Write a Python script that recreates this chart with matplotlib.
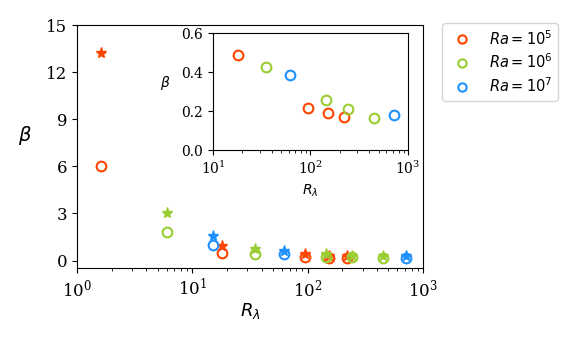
import numpy as np
import matplotlib.pyplot as plt

plt.rcParams['font.family'] = 'DejaVu Serif'
plt.rcParams['mathtext.fontset'] = 'dejavusans'

# Taylor-Reynolds numbers and beta per Rayleigh number
labels = [r'$Ra = 10^5$', r'$Ra = 10^6$', r'$Ra = 10^7$']
colors = ['orangered', 'yellowgreen', 'dodgerblue']

R_lambda = [
    [1.6, 18.0, 95.0, 152.0, 219.0],
    [6.0, 34.7, 143.0, 244.0, 452.0],
    [15.0, 62.0, 713.0],
]
beta_circ = [
    [6.05, 0.49, 0.215, 0.19, 0.17],
    [1.8, 0.425, 0.255, 0.21, 0.165],
    [1.0, 0.385, 0.18],
]
beta_star = [
    [13.2, 0.94, 0.41, 0.3, 0.3],
    [3.04, 0.73, 0.43, 0.3, 0.27],
    [1.54, 0.58, 0.3],
]

fig = plt.figure(figsize=(5.81, 3.49), dpi=100)
ax = fig.add_axes([0.1325, 0.231, 0.5955, 0.697])

for x, yc, ys, c, lab in zip(R_lambda, beta_circ, beta_star, colors, labels):
    ax.plot(x, ys, '*', color=c, ms=8, ls='none')
    ax.plot(x, yc, 'o', mfc='none', mec=c, mew=1.5, ms=7, ls='none', label=lab)

ax.set_xscale('log')
ax.set_xlim(1, 1000)
ax.set_ylim(-0.5, 15)
ax.set_yticks([0, 3, 6, 9, 12, 15])
ax.tick_params(labelsize=12)
ax.set_xlabel(r'$R_\lambda$', fontsize=13, labelpad=1)
ax.set_ylabel(r'$\beta$', fontsize=14, rotation=0, labelpad=15)

# inset with circles only, R_lambda >= 10
axin = fig.add_axes([0.3666, 0.570, 0.3356, 0.335])
for x, yc, c in zip(R_lambda, beta_circ, colors):
    x = np.array(x)
    yc = np.array(yc)
    m = x >= 10
    axin.plot(x[m], yc[m], 'o', mfc='none', mec=c, mew=1.5, ms=7, ls='none')
axin.set_xscale('log')
axin.set_xlim(10, 1000)
axin.set_ylim(0, 0.6)
axin.set_yticks([0, 0.2, 0.4, 0.6])
axin.tick_params(labelsize=10)
axin.set_xlabel(r'$R_\lambda$', fontsize=10)
axin.set_ylabel(r'$\beta$', fontsize=10, rotation=0, labelpad=12)

fig.legend(*ax.get_legend_handles_labels(), loc='upper left',
           bbox_to_anchor=(442/581, 1 - 23/349), fontsize=10.5,
           borderaxespad=0, markerscale=0.85, labelspacing=0.35)

fig.savefig('out.png', dpi=100)
